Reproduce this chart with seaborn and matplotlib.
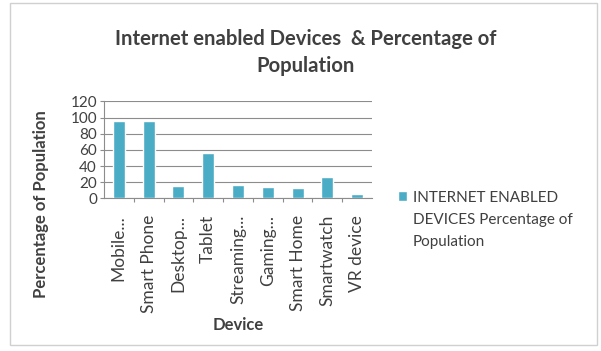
import matplotlib
matplotlib.use("Agg")
import matplotlib.pyplot as plt
import seaborn as sns
import pandas as pd
from matplotlib.patches import Rectangle

devices = ["Mobile...", "Smart Phone", "Desktop...", "Tablet", "Streaming...",
           "Gaming...", "Smart Home", "Smartwatch", "VR device"]
percent = [96, 96, 15, 56, 16, 14, 13, 26, 5]
series_name = "INTERNET ENABLED\nDEVICES Percentage of\nPopulation"

df = pd.DataFrame({"Device": devices, "Percent": percent})

sns.set_theme(style="white")
plt.rcParams["font.family"] = ["Lato", "DejaVu Sans"]
text_color = "#404040"

fig = plt.figure(figsize=(6.01, 3.51), dpi=100)
ax = fig.add_axes([0.173, 0.435, 0.446, 0.276])

sns.barplot(data=df, x="Device", y="Percent", color="#4BACC6", width=0.4,
            saturation=1, ax=ax, label=series_name, zorder=3)

ax.set_xlim(-0.5, len(devices) - 0.5)
ax.set_ylim(0, 120)
ax.set_yticks(range(0, 121, 20))
ax.yaxis.grid(True, color="#8c8c8c", linewidth=0.8, zorder=0)
for side in ["top", "right"]:
    ax.spines[side].set_visible(False)
for side in ["bottom", "left"]:
    ax.spines[side].set_color("#8c8c8c")
    ax.spines[side].set_linewidth(0.8)
ax.tick_params(axis="y", labelsize=11, pad=2, colors="#8c8c8c", labelcolor=text_color,
               left=True, length=3, width=0.8)
ax.tick_params(axis="x", labelsize=12.5, rotation=90, labelcolor=text_color,
               bottom=False, pad=6)
ax.set_xticks([i + 0.5 for i in range(len(devices) - 1)], minor=True)
ax.tick_params(axis="x", which="minor", bottom=True, length=3, width=0.8, colors="#8c8c8c")

ax.set_xlabel("Device", fontsize=12, fontweight="bold", color=text_color)
ax.xaxis.set_label_coords(0.5, -1.22)
ax.set_ylabel("")
fig.text(0.069, 0.419, "Percentage of Population", rotation=90, ha="center", va="center",
         fontsize=12, fontweight="bold", color=text_color)

fig.text(0.509, 0.85, "Internet enabled Devices  & Percentage of\nPopulation",
         ha="center", va="center", fontsize=14.6, fontweight="bold", color=text_color,
         linespacing=1.4)

leg = ax.legend(loc="upper left", bbox_to_anchor=(1.07, 0.15), frameon=False,
                fontsize=11, handlelength=0.55, handleheight=0.55, handletextpad=0.4,
                labelcolor=text_color, borderpad=0)
for t in leg.get_texts():
    t.set_linespacing(1.7)
for col in leg._legend_handle_box.get_children():
    for hp in col.get_children():
        hp.align = "top"

fig.add_artist(Rectangle((0.017, 0.017), 0.977, 0.975, transform=fig.transFigure,
                         fill=False, edgecolor="#d0d0d0", linewidth=1))

fig.savefig("out.png", dpi=100)
